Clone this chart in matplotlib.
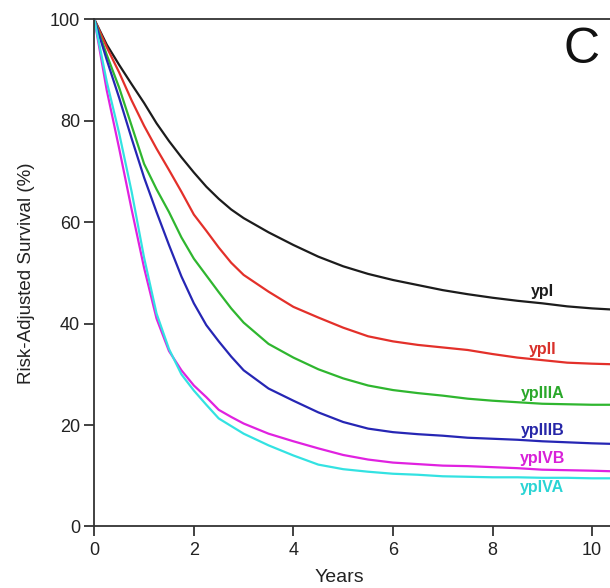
import matplotlib
matplotlib.use("Agg")
import matplotlib.pyplot as plt

plt.rcParams['font.family'] = ['Liberation Sans', 'DejaVu Sans']

# curve readings (years, risk-adjusted survival %)
t_grid = [0, 0.25, 0.5, 0.75, 1.0, 1.25, 1.5, 1.75, 2.0, 2.25, 2.5, 2.75, 3.0,
          3.5, 4.0, 4.5, 5.0, 5.5, 6.0, 6.5, 7.0, 7.5, 8.0, 8.5, 9.0, 9.5, 10.0, 10.36]

yp1 = [100, 95, 91, 87.2, 83.5, 79.5, 76, 72.8, 69.8, 67, 64.6, 62.5, 60.8,
       58, 55.5, 53.2, 51.3, 49.8, 48.6, 47.6, 46.6, 45.8, 45.1, 44.5, 44, 43.4, 43, 42.8]
yp2 = [100, 94.5, 89.5, 84, 79, 74.5, 70.3, 66, 61.5, 58.3, 55, 52, 49.6,
       46.3, 43.3, 41.2, 39.2, 37.5, 36.5, 35.8, 35.3, 34.8, 34, 33.3, 32.8, 32.3, 32.1, 32]
yp3a = [100, 93, 86.5, 79, 71.5, 66.5, 62, 57, 52.8, 49.5, 46.2, 43, 40.2,
        36, 33.3, 31, 29.2, 27.8, 26.9, 26.3, 25.8, 25.2, 24.8, 24.5, 24.2, 24.1, 24, 24]
yp3b = [100, 92, 84.5, 76.5, 68.8, 62, 55.5, 49.3, 44, 39.7, 36.5, 33.5, 30.8,
        27.2, 24.8, 22.5, 20.6, 19.3, 18.6, 18.2, 17.9, 17.5, 17.3, 17.1, 16.8, 16.6, 16.4, 16.3]
yp4b = [100, 86, 74.5, 62.5, 51, 41, 34.6, 30.8, 27.8, 25.5, 23, 21.6, 20.3,
        18.3, 16.8, 15.4, 14.1, 13.2, 12.6, 12.3, 12, 11.9, 11.7, 11.5, 11.2, 11.1, 11, 10.9]
yp4a = [100, 87.7, 77.5, 66, 53, 42, 35, 30, 26.8, 24, 21.3, 19.8, 18.3,
        16, 14, 12.2, 11.3, 10.8, 10.4, 10.2, 9.9, 9.8, 9.7, 9.7, 9.6, 9.6, 9.5, 9.5]

names = ['ypI', 'ypII', 'ypIIIA', 'ypIIIB', 'ypIVB', 'ypIVA']
label_y = [46.4, 34.8, 26.3, 19.0, 13.5, 7.6]
label_x = 9.0
x_ticks = [0, 2, 4, 6, 8, 10]
y_ticks = [0, 20, 40, 60, 80, 100]

series = [yp1, yp2, yp3a, yp3b, yp4b, yp4a]
colors = ['#1c1c1c', '#e3302a', '#2fb62f', '#2626b4', '#e022e0', '#33e2e2']
text_colors = ['#1c1c1c', '#d8302a', '#2aa82a', '#2626a8', '#d820d8', '#2ad4d4']

fig = plt.figure(figsize=(6.1, 5.88), dpi=100)
ax = fig.add_axes([0.1546, 0.1046, 0.8454, 0.8626])

for s, c in zip(series, colors):
    ax.plot(t_grid, s, color=c, lw=1.6)

for name, yv, tc in zip(names, label_y, text_colors):
    ax.text(label_x, yv, name, color=tc, fontsize=11.5, ha='center', va='center',
            fontweight='bold')

ax.set_xlim(0, 10.36)
ax.set_ylim(0, 100)
ax.set_xticks(x_ticks)
ax.set_yticks(y_ticks)
ax.spines['right'].set_visible(False)
for sp in ['left', 'bottom', 'top']:
    ax.spines[sp].set_color('#333333')
    ax.spines[sp].set_linewidth(1.3)
ax.tick_params(direction='out', length=7.2, width=1.3, color='#333333',
               labelsize=13, labelcolor='#222222', pad=3)
ax.tick_params(axis='x', pad=4)

ax.set_ylabel('Risk-Adjusted Survival (%)', fontsize=13.5, color='#222222')
ax.yaxis.set_label_coords(-0.115, 0.5)
ax.set_xlabel('Years', fontsize=14, color='#222222')
ax.xaxis.set_label_coords(0.4745, -0.1015)
ax.xaxis.label.set_va('center')

fig.text(0.9536, 0.915, 'C', fontsize=36, ha='center', va='center', color='#111111')

fig.savefig('out.png', dpi=100)
